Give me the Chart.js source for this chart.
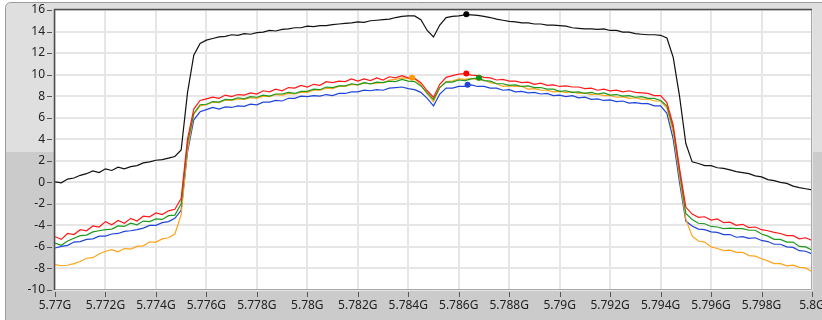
<!DOCTYPE html>
<html>
<head>
<meta charset="utf-8">
<script src="https://cdn.jsdelivr.net/npm/chart.js@4.4.1/dist/chart.umd.min.js"></script>
<style>
  html, body { margin: 0; padding: 0; background: #fff; }
  canvas { display: block; }
</style>
</head>
<body>
<canvas id="spectrum" width="822" height="320"></canvas>
<script>
// sweep points, MHz
const freqMHz = [
  5770, 5770.25, 5770.5, 5770.75, 5771, 5771.25, 5771.5, 5771.75, 5772, 5772.25,
  5772.5, 5772.75, 5773, 5773.25, 5773.5, 5773.75, 5774, 5774.25, 5774.5, 5774.75,
  5775, 5775.25, 5775.5, 5775.75, 5776, 5776.25, 5776.5, 5776.75, 5777, 5777.25,
  5777.5, 5777.75, 5778, 5778.25, 5778.5, 5778.75, 5779, 5779.25, 5779.5, 5779.75,
  5780, 5780.25, 5780.5, 5780.75, 5781, 5781.25, 5781.5, 5781.75, 5782, 5782.25,
  5782.5, 5782.75, 5783, 5783.25, 5783.5, 5783.75, 5784, 5784.25, 5784.5, 5784.75,
  5785, 5785.25, 5785.5, 5785.75, 5786, 5786.25, 5786.5, 5786.75, 5787, 5787.25,
  5787.5, 5787.75, 5788, 5788.25, 5788.5, 5788.75, 5789, 5789.25, 5789.5, 5789.75,
  5790, 5790.25, 5790.5, 5790.75, 5791, 5791.25, 5791.5, 5791.75, 5792, 5792.25,
  5792.5, 5792.75, 5793, 5793.25, 5793.5, 5793.75, 5794, 5794.25, 5794.5, 5794.75,
  5795, 5795.25, 5795.5, 5795.75, 5796, 5796.25, 5796.5, 5796.75, 5797, 5797.25,
  5797.5, 5797.75, 5798, 5798.25, 5798.5, 5798.75, 5799, 5799.25, 5799.5, 5799.75,
  5800
];

const blackTrace = [
  0.05, -0.05, 0.3, 0.4, 0.65, 0.8, 1.05, 0.9, 1.25, 1.1,
  1.4, 1.25, 1.45, 1.55, 1.8, 1.9, 2.05, 2.1, 2.25, 2.4,
  3.0, 8.3, 11.8, 12.9, 13.2, 13.35, 13.5, 13.55, 13.7, 13.65,
  13.8, 13.75, 13.9, 13.95, 14.1, 14.05, 14.2, 14.25, 14.35, 14.35,
  14.5, 14.45, 14.55, 14.55, 14.65, 14.7, 14.75, 14.8, 14.9, 14.85,
  15.0, 15.05, 15.1, 15.15, 15.3, 15.4, 15.45, 15.45, 15.1, 14.1,
  13.5, 14.6, 15.3, 15.4, 15.45, 15.55, 15.55, 15.5, 15.4, 15.3,
  15.15, 15.05, 14.95, 14.9, 14.8, 14.8, 14.7, 14.7, 14.6, 14.6,
  14.55, 14.5, 14.35, 14.3, 14.25, 14.25, 14.2, 14.25, 14.1, 14.1,
  13.95, 13.95, 13.8, 13.75, 13.7, 13.7, 13.65, 13.4, 11.6, 8.0,
  3.6, 1.9, 1.75, 1.55, 1.55, 1.35, 1.3, 1.15, 1.0, 0.9,
  0.8, 0.6, 0.5, 0.25, 0.15, 0.0, -0.1, -0.35, -0.5, -0.6,
  -0.7
];

const redTrace = [
  -5.05, -5.3, -4.75, -4.85, -4.4, -4.5, -4.05, -4.15, -3.65, -3.95,
  -3.55, -3.8, -3.35, -3.6, -3.15, -3.2, -2.85, -3.0, -2.65, -2.5,
  -1.5, 4.0, 6.8, 7.6, 7.75, 7.9, 7.8, 8.1, 7.95, 8.15,
  8.1, 8.3, 8.2, 8.5, 8.4, 8.65, 8.5, 8.8, 8.75, 9.0,
  8.85, 9.1, 9.0, 9.35, 9.25, 9.4, 9.35, 9.6, 9.4, 9.6,
  9.45, 9.7, 9.5, 9.8, 9.7, 9.9, 9.7, 9.65, 9.25, 8.5,
  7.9, 9.1, 9.75, 9.9, 10.05, 10.1, 9.95, 9.9, 9.75, 9.7,
  9.5, 9.55, 9.4, 9.4, 9.25, 9.3, 9.1, 9.2, 9.0, 9.05,
  8.9, 8.95, 8.85, 8.85, 8.7, 8.75, 8.55, 8.65, 8.5, 8.55,
  8.4, 8.5, 8.35, 8.3, 8.25, 8.05, 8.05, 7.4, 5.3, 1.3,
  -2.3, -2.95, -3.25, -3.2, -3.5, -3.4, -3.75, -3.7, -4.0, -3.9,
  -4.2, -4.15, -4.4, -4.5, -4.65, -4.75, -4.95, -4.95, -5.25, -5.15,
  -5.4
];

const greenTrace = [
  -5.65, -5.85, -5.45, -5.2, -4.95, -4.9, -4.6, -4.5, -4.4, -4.35,
  -4.05, -4.1, -3.8, -3.95, -3.6, -3.65, -3.4, -3.45, -3.1, -3.05,
  -2.0, 3.6, 6.4, 7.2, 7.25, 7.5, 7.45, 7.7, 7.65, 7.85,
  7.75, 7.95, 7.9, 8.1, 8.0, 8.2, 8.2, 8.35, 8.25, 8.45,
  8.45, 8.65, 8.6, 8.85, 8.8, 8.95, 8.95, 9.15, 9.05, 9.25,
  9.15, 9.3, 9.25, 9.4, 9.35, 9.55, 9.4, 9.35, 8.95, 8.3,
  7.7, 8.8, 9.3, 9.3, 9.5, 9.45, 9.6, 9.7, 9.45, 9.4,
  9.15, 9.15, 9.0, 9.05, 8.9, 8.95, 8.8, 8.8, 8.65, 8.65,
  8.45, 8.5, 8.35, 8.4, 8.25, 8.35, 8.2, 8.3, 8.1, 8.15,
  8.0, 8.05, 7.9, 7.95, 7.8, 7.8, 7.6, 7.1, 5.0, 1.0,
  -2.9, -3.45, -3.8, -3.85, -4.1, -4.15, -4.3, -4.25, -4.3, -4.3,
  -4.45, -4.45, -4.8, -5.0, -5.3, -5.3, -5.55, -5.55, -5.95, -6.0,
  -6.3
];

const blueTrace = [
  -6.1, -5.95, -5.85, -5.55, -5.5, -5.3, -5.25, -5.0, -5.0, -4.8,
  -4.75, -4.55, -4.5, -4.4, -4.25, -4.0, -4.0, -3.75, -3.65, -3.35,
  -2.6, 2.8, 5.8, 6.55, 6.75, 6.95, 6.8, 7.0, 6.95, 7.1,
  7.05, 7.25, 7.2, 7.45, 7.45, 7.6, 7.55, 7.8, 7.8, 8.0,
  7.95, 8.05, 8.0, 8.15, 8.05, 8.25, 8.25, 8.4, 8.4, 8.55,
  8.5, 8.6, 8.55, 8.75, 8.8, 8.85, 8.7, 8.6, 8.35, 7.8,
  7.1, 8.2, 8.75, 8.75, 8.9, 8.9, 9.05, 8.9, 8.9, 8.75,
  8.75, 8.55, 8.6, 8.4, 8.45, 8.3, 8.35, 8.2, 8.25, 8.05,
  8.1, 7.95, 8.05, 7.85, 7.9, 7.7, 7.75, 7.6, 7.65, 7.5,
  7.55, 7.35, 7.4, 7.3, 7.3, 7.1, 7.1, 6.4, 4.0, 0.0,
  -3.6, -4.05, -4.35, -4.4, -4.6, -4.65, -4.85, -4.85, -5.1, -5.05,
  -5.2, -5.15, -5.4, -5.5, -5.75, -5.75, -6.0, -6.05, -6.35, -6.4,
  -6.65
];

const orangeTrace = [
  -7.65, -7.75, -7.7, -7.55, -7.35, -7.05, -7.0, -6.65, -6.4, -6.25,
  -6.45, -6.15, -6.2, -5.95, -5.9, -5.55, -5.55, -5.25, -5.15, -4.8,
  -3.0, 3.0, 6.3, 7.1, 7.2, 7.45, 7.4, 7.65, 7.6, 7.75,
  7.7, 7.85, 7.8, 8.0, 7.95, 8.15, 8.1, 8.25, 8.2, 8.35,
  8.35, 8.55, 8.55, 8.75, 8.7, 8.9, 8.9, 9.1, 9.05, 9.2,
  9.15, 9.2, 9.25, 9.5, 9.55, 9.7, 9.65, 9.6, 9.05, 8.2,
  7.5, 8.8, 9.35, 9.4, 9.6, 9.55, 9.65, 9.5, 9.5, 9.25,
  9.15, 8.9, 8.95, 8.9, 8.9, 8.65, 8.7, 8.55, 8.55, 8.4,
  8.45, 8.35, 8.4, 8.25, 8.3, 8.15, 8.2, 8.05, 8.05, 7.9,
  7.95, 7.8, 7.85, 7.7, 7.75, 7.55, 7.55, 6.9, 4.6, 0.5,
  -3.4, -5.0, -5.45, -5.55, -6.0, -6.15, -6.35, -6.3, -6.5, -6.5,
  -6.8, -6.85, -7.1, -7.3, -7.55, -7.55, -7.75, -7.7, -7.9, -7.95,
  -8.3
];

// peak markers
const markerFreqMHz = [5786.3, 5786.3, 5784.15, 5786.8, 5786.35];
const markerLevel = [15.6, 10.1, 9.7, 9.72, 9.05];

const yTicks = { min: -10, max: 16, step: 2 };

const traceColors = ['#111111', '#ff1a1a', '#1f9a1f', '#1f45d8', '#ffa31a'];

const toPoints = (vals) => vals.map((v, i) => ({ x: freqMHz[i], y: v }));

const tickFont = { family: 'Noto Sans', size: 12 };

// widget background + plot well
const panelBg = {
  id: 'panelBg',
  beforeDraw(chart) {
    const { ctx, chartArea: a, width, height } = chart;
    ctx.save();
    ctx.fillStyle = '#ffffff';
    ctx.fillRect(0, 0, width, height);
    const x0 = 5.5, y0 = 2.5, r = 5;
    ctx.beginPath();
    ctx.moveTo(x0 + r, y0);
    ctx.lineTo(width + 10, y0);
    ctx.lineTo(width + 10, height + 10);
    ctx.lineTo(x0, height + 10);
    ctx.lineTo(x0, y0 + r);
    ctx.arcTo(x0, y0, x0 + r, y0, r);
    ctx.closePath();
    ctx.save();
    ctx.clip();
    ctx.fillStyle = '#dfdfdf';
    ctx.fillRect(0, 0, width, 152);
    ctx.fillStyle = '#cbcbcb';
    ctx.fillRect(0, 152, width, height - 152);
    ctx.restore();
    ctx.strokeStyle = '#9c9c9c';
    ctx.lineWidth = 1;
    ctx.stroke();
    ctx.fillStyle = '#ffffff';
    ctx.fillRect(a.left, a.top, a.right - a.left, a.bottom - a.top);
    ctx.restore();
  },
  afterDraw(chart) {
    const { ctx, chartArea: a, scales } = chart;
    ctx.save();
    // tick marks, detached from the axis
    ctx.strokeStyle = '#555';
    ctx.lineWidth = 1;
    scales.y.ticks.forEach(t => {
      const y = Math.round(scales.y.getPixelForValue(t.value)) + 0.5;
      ctx.beginPath();
      ctx.moveTo(a.left - 8, y);
      ctx.lineTo(a.left - 3, y);
      ctx.stroke();
    });
    scales.x.ticks.forEach(t => {
      const x = Math.round(scales.x.getPixelForValue(t.value)) + 0.5;
      ctx.beginPath();
      ctx.moveTo(x, a.bottom + 2);
      ctx.lineTo(x, a.bottom + 7);
      ctx.stroke();
    });
    // plot border
    ctx.strokeStyle = '#a8a8a8';
    ctx.beginPath();
    ctx.moveTo(a.right - 0.5, a.top);
    ctx.lineTo(a.right - 0.5, a.bottom - 0.5);
    ctx.lineTo(a.left, a.bottom - 0.5);
    ctx.stroke();
    ctx.strokeStyle = '#4d4d4d';
    ctx.lineWidth = 1.5;
    ctx.beginPath();
    ctx.moveTo(a.left - 0.5, a.bottom);
    ctx.lineTo(a.left - 0.5, a.top - 0.5);
    ctx.lineTo(a.right, a.top - 0.5);
    ctx.stroke();
    ctx.restore();
  }
};

const lineSet = (vals, color) => ({
  data: toPoints(vals),
  borderColor: color,
  borderWidth: 1.2,
  pointRadius: 0,
  tension: 0
});

new Chart(document.getElementById('spectrum'), {
  type: 'line',
  data: {
    datasets: [
      {
        data: markerFreqMHz.map((f, i) => ({ x: f, y: markerLevel[i] })),
        showLine: false,
        pointRadius: 3,
        pointBorderWidth: 0,
        pointBackgroundColor: ['#000000', '#ff0000', '#ff9900', '#109010', '#1f45d8']
      },
      lineSet(blackTrace, traceColors[0]),
      lineSet(redTrace, traceColors[1]),
      lineSet(greenTrace, traceColors[2]),
      lineSet(orangeTrace, traceColors[4]),
      lineSet(blueTrace, traceColors[3])
    ]
  },
  options: {
    responsive: false,
    animation: false,
    devicePixelRatio: 1,
    layout: { padding: { left: 0, top: 10, right: 10, bottom: 0 } },
    plugins: { legend: { display: false }, tooltip: { enabled: false } },
    scales: {
      x: {
        type: 'linear',
        min: 5770,
        max: 5800,
        ticks: {
          stepSize: 2,
          autoSkip: false,
          maxRotation: 0,
          padding: 8,
          color: '#222',
          font: tickFont,
          callback: v => (v / 1000) + 'G'
        },
        grid: { color: '#e6e6e6', lineWidth: 2, drawTicks: false },
        border: { display: false },
        afterFit(s) { s.height = 30; s.paddingLeft = 0; s.paddingRight = 0; }
      },
      y: {
        min: yTicks.min,
        max: yTicks.max,
        ticks: { stepSize: yTicks.step, padding: 10, color: '#222', font: tickFont },
        grid: { color: '#e6e6e6', lineWidth: 2, drawTicks: false },
        border: { display: false },
        afterFit(s) { s.width = 55; s.paddingTop = 0; s.paddingBottom = 0; }
      }
    }
  },
  plugins: [panelBg]
});
</script>
</body>
</html>
